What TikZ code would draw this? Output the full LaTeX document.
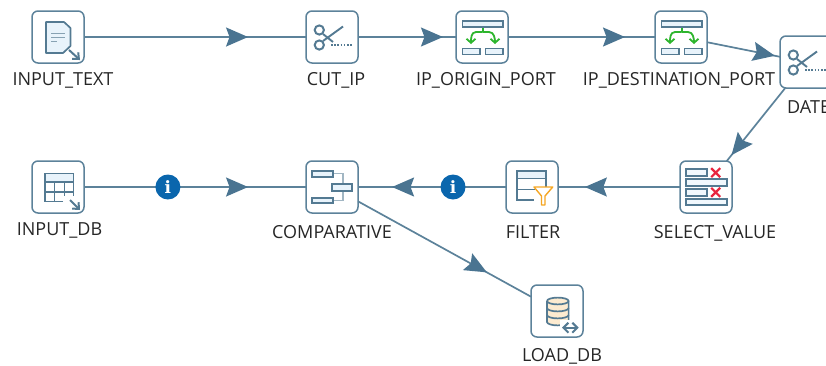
\documentclass[tikz,border=0pt]{standalone}
\usepackage{fontspec}
\setmainfont{Open Sans}
\newfontfamily\infofont{DejaVu Serif}
\usetikzlibrary{positioning,arrows.meta,decorations.markings}

\definecolor{slateline}{HTML}{5C829A}
\definecolor{slatetip}{HTML}{4A7491}
\definecolor{slatedark}{HTML}{547A92}
\definecolor{paleblue}{HTML}{E8F3FB}
\definecolor{infoblue}{HTML}{0A66AD}
\definecolor{mapgreen}{HTML}{2DB52D}
\definecolor{funnelorange}{HTML}{F5A623}
\definecolor{crossred}{HTML}{E8253F}
\definecolor{dbcream}{HTML}{FDEBD0}

\tikzset{
	stepbox/.style={draw=slateline, line width=1.5pt, rounded corners=6pt, fill=white, minimum size=52pt, inner sep=0pt, outer sep=0pt},
	steplabel/.style={font=\fontsize{18}{18}\selectfont, text=black!85, inner sep=0pt, text height=13pt, text depth=4pt},
	infobadge/.style={circle, fill=infoblue, text=white, minimum size=25pt, inner sep=0pt, font=\infofont\bfseries\fontsize{17}{17}\selectfont},
	flow/.style={draw=slateline, line width=1.7pt, postaction={decorate}, decoration={markings, mark=at position #1 with {\arrow[slatetip]{Stealth[length=22pt,width=19pt,inset=3.5pt]}}}},
	iconline/.style={draw=slatedark, line width=1.7pt},
	iconarrow/.style={draw=slatedark, line width=2pt, -{Straight Barb[length=5pt,width=9pt]}},
	maparrow/.style={draw=mapgreen, line width=1.8pt, -{Straight Barb[length=4pt,width=9pt]}},
	pics/texticon/.style={code={
		\path[iconline, fill=paleblue, line join=round] (-12pt,15pt) -- (6pt,15pt) -- (12.5pt,9pt) -- (12.5pt,-9pt) -- (5pt,-16pt) -- (-12pt,-16pt) -- cycle;
		\draw[slatedark!70, line width=1pt] (-7pt,4pt) -- (7pt,4pt) (-7pt,0pt) -- (7pt,0pt) (-7pt,-4.5pt) -- (-1pt,-4.5pt);
		\draw[iconarrow] (11pt,-13pt) -- (22pt,-23pt);
	}},
	pics/tableicon/.style={code={
		\fill[paleblue] (-13pt,13.5pt) rectangle (15.5pt,5pt);
		\draw[iconline] (5pt,-14.5pt) -- (-13pt,-14.5pt) -- (-13pt,13.5pt) -- (15.5pt,13.5pt) -- (15.5pt,-9pt);
		\draw[slatedark, line width=1.1pt] (-13pt,5pt) -- (15.5pt,5pt) (-13pt,-5pt) -- (15.5pt,-5pt) (-3.5pt,5pt) -- (-3.5pt,-14.5pt) (6.5pt,5pt) -- (6.5pt,-9pt);
		\draw[iconarrow] (12pt,-13pt) -- (22pt,-23pt);
	}},
	pics/cuticon/.style={code={
		\draw[iconline, line width=2pt] (-12.7pt,7pt) circle (4.6pt) (-12.7pt,-8pt) circle (4.6pt);
		\draw[iconline, line width=1.9pt] (-9pt,-4pt) -- (11pt,10.5pt) (-9pt,3pt) -- (1pt,-5pt);
		\draw[slatedark, line width=1.3pt, dash pattern=on 1.6pt off 1.6pt] (-1pt,-8pt) -- (20pt,-8pt);
	}},
	pics/mapicon/.style={code={
		\draw[iconline, fill=paleblue] (-19.5pt,16pt) rectangle (21pt,10pt);
		\draw[iconline, fill=paleblue] (-19.5pt,-11.5pt) rectangle (-2pt,-17.5pt);
		\draw[iconline, fill=paleblue] (3.5pt,-11.5pt) rectangle (21pt,-17.5pt);
		\draw[mapgreen, line width=1.8pt] (.7pt,9pt) -- (.7pt,5pt);
		\draw[maparrow] (.7pt,5pt) -- (-6pt,5pt) to[out=180,in=90] (-11pt,-7pt);
		\draw[maparrow] (.7pt,5pt) -- (7pt,5pt) to[out=0,in=90] (13pt,-7pt);
	}},
	pics/compareicon/.style={code={
		\draw[slatedark!55, line width=1.2pt] (.7pt,13.3pt) -- (11pt,13.3pt) -- (11pt,-13.5pt) -- (.7pt,-13.5pt);
		\draw[iconline, fill=paleblue] (-20.3pt,16.3pt) rectangle (.7pt,10.3pt);
		\draw[iconline, fill=paleblue] (-20.3pt,-10.7pt) rectangle (.7pt,-16.3pt);
		\draw[iconline, fill=paleblue] (-.3pt,2.7pt) rectangle (20pt,-3.7pt);
	}},
	pics/filtericon/.style={code={
		\fill[paleblue] (-15.3pt,16.3pt) rectangle (14pt,8.5pt);
		\draw[iconline, line width=2pt] (14pt,0pt) -- (14pt,16.3pt) -- (-15.3pt,16.3pt) -- (-15.3pt,-13pt) -- (2pt,-13pt);
		\draw[slatedark, line width=1.5pt] (-15.3pt,8.5pt) -- (14pt,8.5pt) (-15.3pt,-2.5pt) -- (3pt,-2.5pt);
		\draw[funnelorange, line width=1.4pt, fill=white, line join=round] (2pt,0pt) -- (20.7pt,0pt) -- (13pt,-9pt) -- (13pt,-18pt) -- (9.5pt,-18pt) -- (9.5pt,-9pt) -- cycle;
	}},
	pics/selecticon/.style={code={
		\draw[iconline, fill=paleblue!60] (-19.7pt,17.7pt) rectangle (1pt,11pt);
		\draw[iconline, fill=paleblue!60] (-19.7pt,7.7pt) rectangle (21pt,1pt);
		\draw[iconline, fill=paleblue!60] (-19.7pt,-2pt) rectangle (1pt,-8.7pt);
		\draw[iconline, fill=paleblue!60] (-19.7pt,-12pt) rectangle (21pt,-18.3pt);
		\draw[crossred, line width=2.2pt] (5.2pt,18.8pt) -- (14.2pt,9.8pt) (5.2pt,9.8pt) -- (14.2pt,18.8pt);
		\draw[crossred, line width=2.2pt] (5.2pt,-.8pt) -- (14.2pt,-9.8pt) (5.2pt,-9.8pt) -- (14.2pt,-.8pt);
	}},
	pics/dbicon/.style={code={
		\draw[iconline, fill=dbcream] (-10pt,10pt) -- (-10pt,-11pt) arc[start angle=180, end angle=360, x radius=10.8pt, y radius=3.4pt] -- (11.6pt,10pt) arc[start angle=0, end angle=180, x radius=10.8pt, y radius=3.4pt];
		\draw[iconline] (-10pt,10pt) arc[start angle=180, end angle=360, x radius=10.8pt, y radius=3.4pt];
		\draw[iconline] (-10pt,3pt) arc[start angle=180, end angle=360, x radius=10.8pt, y radius=3.4pt];
		\draw[iconline] (-10pt,-4pt) arc[start angle=180, end angle=360, x radius=10.8pt, y radius=3.4pt];
		\fill[white] (3pt,-9pt) rectangle (23pt,-24pt);
		\draw[draw=slatedark, line width=2pt, {Straight Barb[length=5pt,width=10pt]}-{Straight Barb[length=5pt,width=10pt]}] (5pt,-16.7pt) -- (21.7pt,-16.7pt);
	}}
}

\begin{document}
\begin{tikzpicture}
	\path[use as bounding box, clip] (0,0) rectangle (826pt,-365pt);

	\node[stepbox] (input_text) at (58pt,-37pt) {};
	\node[stepbox, right=222pt of input_text] (cut_ip) {};
	\node[stepbox, right=98pt of cut_ip] (ip_origin_port) {};
	\node[stepbox, right=147pt of ip_origin_port] (ip_destination_port) {};
	\node[stepbox, right=73pt of ip_destination_port, yshift=-25pt] (date) {};

	\node[stepbox, below=98pt of input_text] (input_db) {};
	\node[stepbox, below=98pt of cut_ip] (comparative) {};
	\node[stepbox, right=148pt of comparative] (filter) {};
	\node[stepbox, right=122pt of filter] (select_value) {};
	\node[stepbox, below right=72pt and 173pt of comparative] (load_db) {};

	\pic at (input_text) {texticon};
	\pic at (cut_ip) {cuticon};
	\pic at (ip_origin_port) {mapicon};
	\pic at (ip_destination_port) {mapicon};
	\pic at (date) {cuticon};
	\pic at (input_db) {tableicon};
	\pic at (comparative) {compareicon};
	\pic at (filter) {filtericon};
	\pic at (select_value) {selecticon};
	\pic at (load_db) {dbicon};

	\node[steplabel, below=9.5pt of input_text, xshift=5pt] (input_text_label) {INPUT\_TEXT};
	\node[steplabel, below=9.5pt of cut_ip, xshift=4pt] (cut_ip_label) {CUT\_IP};
	\node[steplabel, below=9.5pt of ip_origin_port, xshift=4pt] (ip_origin_port_label) {IP\_ORIGIN\_PORT};
	\node[steplabel, below=9.5pt of ip_destination_port, xshift=-2pt] (ip_destination_port_label) {IP\_DESTINATION\_PORT};
	\node[steplabel, below=12pt of date.south west, anchor=north west, xshift=7pt] (date_label) {DATE};
	\node[steplabel, below=9.5pt of input_db, xshift=1.5pt] (input_db_label) {INPUT\_DB};
	\node[steplabel, below=12.5pt of comparative] (comparative_label) {COMPARATIVE};
	\node[steplabel, below=12.5pt of filter, xshift=1pt] (filter_label) {FILTER};
	\node[steplabel, below=12.5pt of select_value, xshift=9pt] (select_value_label) {SELECT\_VALUE};
	\node[steplabel, below=11pt of load_db, xshift=5pt] (load_db_label) {LOAD\_DB};

	\draw[flow=.739] (input_text) -- (cut_ip);
	\draw[flow=.867] (cut_ip) -- (ip_origin_port);
	\draw[flow=.796] (ip_origin_port) -- (ip_destination_port);
	\draw[flow=.93] (ip_destination_port) -- (date);
	\draw[flow=.92] (date) -- (select_value);
	\draw[flow=.78] (select_value) -- (filter);
	\draw[flow=.77] (filter) -- node[infobadge, pos=.358] (info_filter) {i} (comparative);
	\draw[flow=.739] (input_db) -- node[infobadge, pos=.378] (info_input) {i} (comparative);
	\draw[flow=.745] (comparative) -- (load_db);
\end{tikzpicture}
\end{document}
